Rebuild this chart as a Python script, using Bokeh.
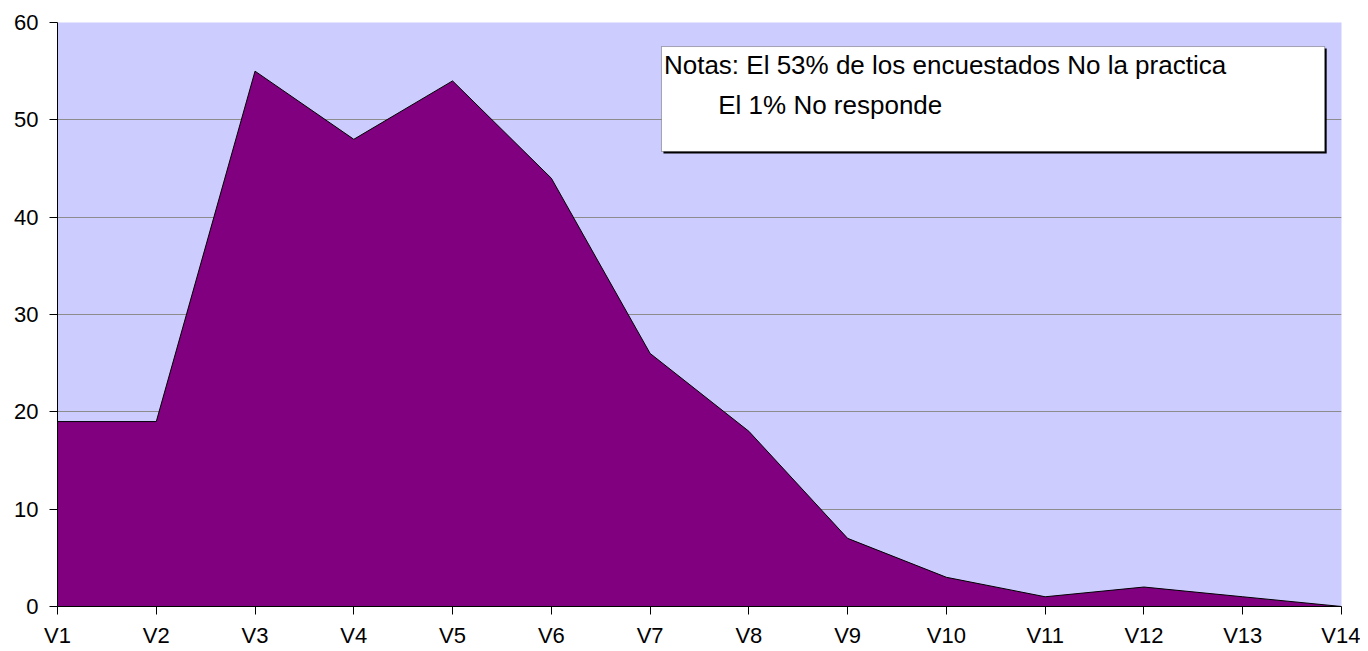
from bokeh.plotting import figure
from bokeh.models import Range1d, BoxAnnotation, Label, FixedTicker
from bokeh.embed import file_html
from bokeh.resources import INLINE

categories = ["V1", "V2", "V3", "V4", "V5", "V6", "V7", "V8", "V9", "V10", "V11", "V12", "V13", "V14"]
values = [19, 19, 55, 48, 54, 44, 26, 18, 7, 3, 1, 2, 1, 0]
y_ticks = [0, 10, 20, 30, 40, 50, 60]
note_line1 = "Notas: El 53% de los encuestados No la practica"
note_line2 = "El 1% No responde"

xs = list(range(len(categories)))

p = figure(width=1360, height=650, output_backend="svg", toolbar_location=None,
           x_range=Range1d(0, len(categories) - 1), y_range=Range1d(0, 60),
           min_border_left=57, min_border_right=19, min_border_top=22, min_border_bottom=44)
p.outline_line_color = None
p.background_fill_color = "#CCCCFF"
p.border_fill_color = "white"

p.varea(x=xs, y1=0, y2=values, fill_color="#800080")
p.line(x=xs, y=values, line_color="black", line_width=1)

p.xgrid.visible = False
p.ygrid.grid_line_color = "#8C8C8C"
p.ygrid.grid_line_width = 1
p.yaxis.ticker = FixedTicker(ticks=y_ticks)
p.xaxis.ticker = FixedTicker(ticks=xs)
p.xaxis.major_label_overrides = {i: c for i, c in enumerate(categories)}

for ax in (p.xaxis[0], p.yaxis[0]):
    ax.axis_line_color = "black"
    ax.axis_line_width = 1
    ax.major_tick_line_color = "black"
    ax.major_tick_in = 0
    ax.major_tick_out = 8
    ax.minor_tick_line_color = None
    ax.major_label_text_font = "Liberation Sans"
    ax.major_label_text_font_size = "22px"
    ax.major_label_text_color = "black"
p.xaxis.major_label_standoff = 8
p.yaxis.major_label_standoff = 11

# note box
p.add_layout(BoxAnnotation(left=6.135, right=12.85, top=57.33, bottom=46.55,
                           fill_color="black", fill_alpha=1.0, line_color=None, level="overlay"))
p.add_layout(BoxAnnotation(left=6.115, right=12.83, top=57.53, bottom=46.75,
                           fill_color="white", fill_alpha=1.0, line_color="black", line_width=1,
                           level="overlay"))
p.add_layout(Label(x=6.14, y=55.6, text=note_line1, text_font="Liberation Sans",
                   text_font_size="26px", text_baseline="middle", text_color="black", level="overlay"))
p.add_layout(Label(x=6.69, y=51.5, text=note_line2, text_font="Liberation Sans",
                   text_font_size="26px", text_baseline="middle", text_color="black", level="overlay"))

open("out.html", "w").write(file_html(p, INLINE))
